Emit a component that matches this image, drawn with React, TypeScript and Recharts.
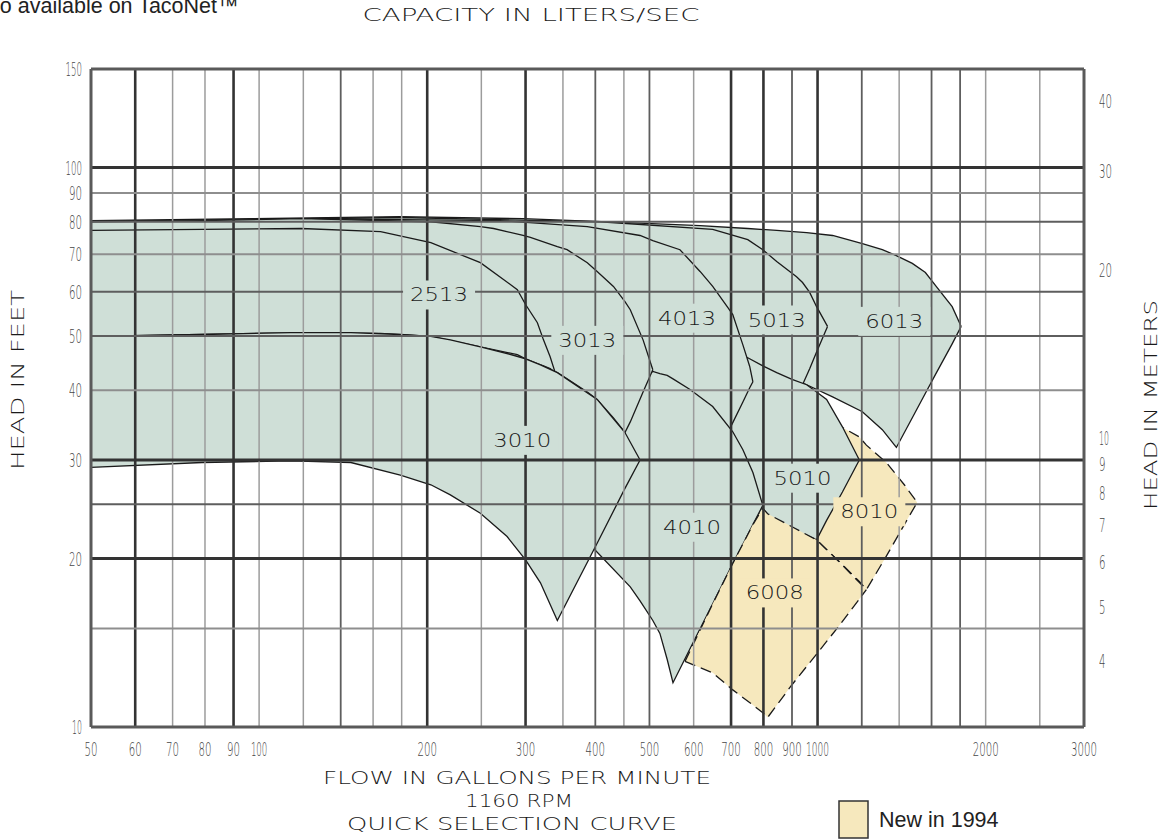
import React from "react";
import { ComposedChart, Area, Scatter, XAxis, YAxis, ReferenceLine } from "recharts";

const W = 1167;
const H = 839;
const GREEN = "#cfdfd7";
const YELLOW = "#f6e8bd";
const INK = "#1a1a1a";
const THIN_FONT = "'DejaVu Sans', 'Noto Sans', sans-serif";
const SANS_FONT = "'Liberation Sans', Arial, sans-serif";

const GPM_PER_LPS = 15.85;
const FT_PER_M = 3.2808;

// axis ticks
const gpmTicks = [50, 60, 70, 80, 90, 100, 200, 300, 400, 500, 600, 700, 800, 900, 1000, 2000, 3000];
const lpsTicks = [4, 5, 6, 7, 8, 9, 10, 20, 30, 40, 50, 60, 70, 80, 90, 100];
const ftTicks = [10, 20, 30, 40, 50, 60, 70, 80, 90, 100, 150];
const mTicks = [4, 5, 6, 7, 8, 9, 10, 20, 30, 40];

// grid lines, three shades like the scan
const gpmGridHeavy = [60, 90, 200, 300, 700, 800, 1000];
const gpmGridMedium = [140, 400, 500, 900, 1200, 1600, 1800];
const gpmGridLight = [70, 80, 100, 120, 160, 180, 250, 350, 450, 600, 1400, 2000, 2500];
const ftGridHeavy = [20, 30, 100];
const ftGridMedium = [25, 50, 60, 80];
const ftGridLight = [15, 40, 70, 90];

// pump bands: [gpm, lower head ft, upper head ft]
const r8010 = [[891, 22.8, 38.5], [996, 21.6, 36.9], [1108, 19.5, 34.3], [1188, 18.2, 33.0], [1223, 17.6, 31.9], [1328, 20.2, 29.7], [1430, 23.0, 27.1], [1508, 25.2, 25.2]];
const r6013 = [[50, 58.0, 80.4], [97, 58.0, 81.0], [179, 56.9, 81.7], [297, 54.6, 81.0], [456, 51.3, 79.7], [616, 48.2, 78.7], [750, 45.7, 77.8], [845, 43.2, 77.2], [956, 40.9, 76.5], [1064, 38.9, 75.6], [1203, 36.6, 73.1], [1306, 34.0, 71.3], [1384, 31.6, 69.6], [1478, 35.7, 67.4], [1560, 39.5, 64.9], [1631, 42.9, 61.3], [1742, 48.4, 56.4], [1808, 52.0, 52.0]];
const r5013 = [[50, 55.7, 80.0], [179, 54.6, 81.4], [408, 51.3, 80.0], [649, 47.3, 77.5], [750, 45.0, 74.3], [798, 43.9, 71.3], [845, 42.5, 67.9], [917, 41.2, 63.8], [940, 40.9, 62.3], [968, 43.7, 59.8], [996, 46.8, 56.4], [1042, 52.0, 52.0]];
const r5010 = [[616, 25.5, 49.2], [750, 24.4, 45.7], [798, 24.0, 44.2], [845, 23.3, 43.0], [900, 22.5, 41.8], [956, 22.0, 40.9], [996, 21.6, 39.7], [1038, 23.4, 38.5], [1108, 26.3, 34.4], [1188, 30.0, 30.0]];
const r4013 = [[50, 51.3, 80.0], [119, 51.3, 81.0], [270, 48.2, 80.4], [387, 42.6, 78.4], [481, 42.6, 75.6], [507, 42.5, 74.0], [567, 40.4, 71.3], [616, 37.5, 65.2], [649, 35.7, 61.3], [691, 33.6, 56.2], [705, 35.0, 54.6], [735, 38.1, 48.2], [756, 40.4, 44.1], [766, 41.4, 41.4]];
const r4010 = [[376, 21.8, 40.9], [400, 20.7, 40.9], [462, 17.8, 41.2], [481, 16.8, 41.8], [507, 15.5, 43.2], [522, 14.7, 42.8], [538, 13.2, 42.5], [551, 12.0, 41.9], [591, 13.8, 40.1], [649, 16.6, 37.4], [705, 19.6, 33.7], [735, 21.2, 31.3], [766, 23.0, 28.5], [798, 24.9, 24.9]];
const r3013 = [[50, 49.9, 80.0], [79, 50.3, 80.4], [119, 50.7, 81.0], [203, 49.9, 80.0], [249, 47.8, 78.4], [263, 47.1, 77.8], [297, 45.7, 75.6], [306, 45.2, 75.0], [342, 43.0, 72.2], [356, 41.9, 71.3], [387, 39.7, 67.6], [403, 38.5, 65.2], [431, 35.7, 61.3], [452, 33.6, 57.6], [462, 35.1, 55.7], [487, 39.7, 49.2], [507, 43.5, 43.5]];
const r2513 = [[50, 49.9, 77.2], [79, 50.3, 77.5], [119, 50.7, 77.8], [165, 50.5, 76.8], [203, 49.9, 73.4], [249, 47.8, 67.6], [290, 46.3, 60.5], [300, 45.5, 56.9], [315, 44.6, 52.8], [323, 44.2, 49.2], [332, 43.7, 45.9], [339, 43.0, 43.0]];
const r3010 = [[50, 29.1, 49.9], [79, 29.7, 50.3], [114, 29.9, 50.7], [146, 29.7, 50.7], [179, 28.2, 50.3], [203, 27.1, 49.9], [220, 26.0, 49.2], [249, 24.1, 47.8], [278, 21.9, 46.5], [300, 19.9, 45.5], [319, 18.1, 44.4], [342, 15.5, 43.0], [403, 21.3, 38.5], [452, 26.7, 33.6], [481, 30.0, 30.0]];
const r6008 = [[579, 13.1, 13.1], [649, 12.5, 16.6], [705, 11.65, 19.6], [766, 10.95, 23.0], [798, 10.6, 24.6], [814, 10.4, 24.05], [900, 11.9, 22.8], [996, 13.5, 21.6], [1095, 15.2, 19.7], [1223, 17.6, 17.6]];

// model labels (gpm, ft)
const labels = [
  { name: "2513", q: 210, h: 59.3 },
  { name: "3013", q: 387, h: 49.2 },
  { name: "4013", q: 584, h: 53.9 },
  { name: "5013", q: 845, h: 53.5 },
  { name: "6013", q: 1372, h: 53.2 },
  { name: "3010", q: 296, h: 32.6 },
  { name: "4010", q: 596, h: 22.8 },
  { name: "5010", q: 940, h: 27.9 },
  { name: "6008", q: 838, h: 17.4, isNew: true },
  { name: "8010", q: 1238, h: 24.3, isNew: true },
];

// painter's order: later bands hide the covered parts of earlier ones
const bands = [
  { id: "8010", pts: r8010, isNew: true },
  { id: "6013", pts: r6013 },
  { id: "5013", pts: r5013 },
  { id: "5010", pts: r5010 },
  { id: "4013", pts: r4013 },
  { id: "4010", pts: r4010 },
  { id: "3013", pts: r3013 },
  { id: "2513", pts: r2513 },
  { id: "3010", pts: r3010 },
  { id: "6008", pts: r6008, isNew: true },
];

const toRows = (pts: number[][]) => pts.map(([q, lo, hi]) => ({ q, range: [lo, hi] }));

// the scan's tick font is very narrow, "1" is a plain bar
function textWidth(s: string) {
  let w = 0;
  for (const c of s) w += c === "1" ? 3.4 : 6.5;
  return w;
}

function AxisTick(props: any) {
  const { x, y, payload, side } = props;
  const s = String(payload.value);
  let tx = x;
  let ty = y;
  let anchor: "start" | "middle" | "end" = "middle";
  if (side === "bottom") ty = y + 29;
  if (side === "top") ty = y - 7;
  if (side === "left") { tx = x - 9; ty = y + 7; anchor = "end"; }
  if (side === "right") { tx = x + 15; ty = y + 7; anchor = "start"; }
  return (
    <text x={tx} y={ty} textAnchor={anchor} fontSize={20} fontWeight={300} fontFamily={THIN_FONT}
      fill="#444" opacity={0.99} textLength={textWidth(s)} lengthAdjust="spacingAndGlyphs">
      {s}
    </text>
  );
}

function ModelLabel(props: any) {
  const { cx, cy, payload } = props;
  return (
    <g>
      <rect x={cx - 36} y={cy - 14} width={72} height={29} fill={payload.isNew ? YELLOW : GREEN} />
      <text x={cx} y={cy + 7} textAnchor="middle" fontSize={19} fontWeight={200} fontFamily={THIN_FONT}
        fill={INK} textLength={58} lengthAdjust="spacingAndGlyphs">
        {payload.name}
      </text>
    </g>
  );
}

function Titles() {
  const t = { fontFamily: THIN_FONT, fontWeight: 200, fontSize: 18, fill: INK } as const;
  return (
    <svg width={W} height={H} style={{ position: "absolute", left: 0, top: 0, pointerEvents: "none" }}>
      <text x={-30} y={13} fontFamily={SANS_FONT} fontSize={21.5} fill="#222">Also available on TacoNet™</text>
      <text x={531} y={21} textAnchor="middle" textLength={337} lengthAdjust="spacingAndGlyphs" {...t}>CAPACITY IN LITERS/SEC</text>
      <text transform="translate(24,380) rotate(-90)" textAnchor="middle" textLength={180} lengthAdjust="spacingAndGlyphs" {...t}>HEAD IN FEET</text>
      <text transform="translate(1157,405) rotate(-90)" textAnchor="middle" textLength={210} lengthAdjust="spacingAndGlyphs" {...t}>HEAD IN METERS</text>
      <text x={517} y={784} textAnchor="middle" textLength={388} lengthAdjust="spacingAndGlyphs" {...t}>FLOW IN GALLONS PER MINUTE</text>
      <text x={519} y={807} textAnchor="middle" textLength={108} lengthAdjust="spacingAndGlyphs" {...t}>1160 RPM</text>
      <text x={512} y={830} textAnchor="middle" textLength={330} lengthAdjust="spacingAndGlyphs" {...t}>QUICK SELECTION CURVE</text>
      <rect x={839} y={801} width={29} height={37} fill={YELLOW} stroke="#333" strokeWidth={1.5} />
      <text x={879} y={827} fontFamily={SANS_FONT} fontSize={21.5} fill="#222">New in 1994</text>
    </svg>
  );
}

export default function App() {
  const axisLine = { stroke: "#5a5a5a", strokeWidth: 3 };
  const grid = (vals: number[], dir: "x" | "y", stroke: string, width: number) =>
    vals.map((v) =>
      dir === "x" ? (
        <ReferenceLine key={`x${v}`} xAxisId="gpm" yAxisId="ft" x={v} stroke={stroke} strokeWidth={width} />
      ) : (
        <ReferenceLine key={`y${v}`} xAxisId="gpm" yAxisId="ft" y={v} stroke={stroke} strokeWidth={width} />
      )
    );

  return (
    <div style={{ position: "absolute", left: 0, top: 0, width: W, height: H, background: "#fff", overflow: "hidden" }}>
      <ComposedChart width={W} height={H} margin={{ top: 39, right: 43, bottom: 82, left: 51 }}>
        <XAxis xAxisId="gpm" dataKey="q" type="number" scale="log" domain={[50, 3000]} allowDataOverflow
          ticks={gpmTicks} interval={0} tickLine={false} tickSize={0} tickMargin={0} height={30}
          axisLine={axisLine} tick={(p: any) => <AxisTick {...p} side="bottom" />} />
        <XAxis xAxisId="lps" orientation="top" type="number" scale="log"
          domain={[50 / GPM_PER_LPS, 3000 / GPM_PER_LPS]} allowDataOverflow
          ticks={lpsTicks} interval={0} tickLine={false} tickSize={0} tickMargin={0} height={30}
          axisLine={axisLine} tick={(p: any) => <AxisTick {...p} side="top" />} />
        <YAxis yAxisId="ft" type="number" scale="log" domain={[10, 150]} allowDataOverflow
          ticks={ftTicks} interval={0} tickLine={false} tickSize={0} tickMargin={0} width={40}
          axisLine={axisLine} tick={(p: any) => <AxisTick {...p} side="left" />} />
        <YAxis yAxisId="m" orientation="right" type="number" scale="log"
          domain={[10 / FT_PER_M, 150 / FT_PER_M]} allowDataOverflow
          ticks={mTicks} interval={0} tickLine={false} tickSize={0} tickMargin={0} width={40}
          axisLine={axisLine} tick={(p: any) => <AxisTick {...p} side="right" />} />

        {bands.map((b) => (
          <Area key={b.id} xAxisId="gpm" yAxisId="ft" data={toRows(b.pts)} dataKey="range" type="linear"
            fill={b.isNew ? YELLOW : GREEN} fillOpacity={1} stroke={INK} strokeWidth={1.3}
            strokeDasharray={b.isNew ? "11 6" : undefined} dot={false} activeDot={false}
            isAnimationActive={false} />
        ))}

        {grid(gpmGridLight, "x", "#9c9c9c", 1.5)}
        {grid(gpmGridMedium, "x", "#5e5e5e", 1.8)}
        {grid(gpmGridHeavy, "x", "#333", 2.6)}
        {grid(ftGridLight, "y", "#8e8e8e", 2)}
        {grid(ftGridMedium, "y", "#5e5e5e", 2)}
        {grid(ftGridHeavy, "y", "#333", 3)}

        <Scatter xAxisId="gpm" yAxisId="ft" data={labels} dataKey="h" shape={(p: any) => <ModelLabel {...p} />}
          isAnimationActive={false} />
      </ComposedChart>
      <Titles />
    </div>
  );
}
